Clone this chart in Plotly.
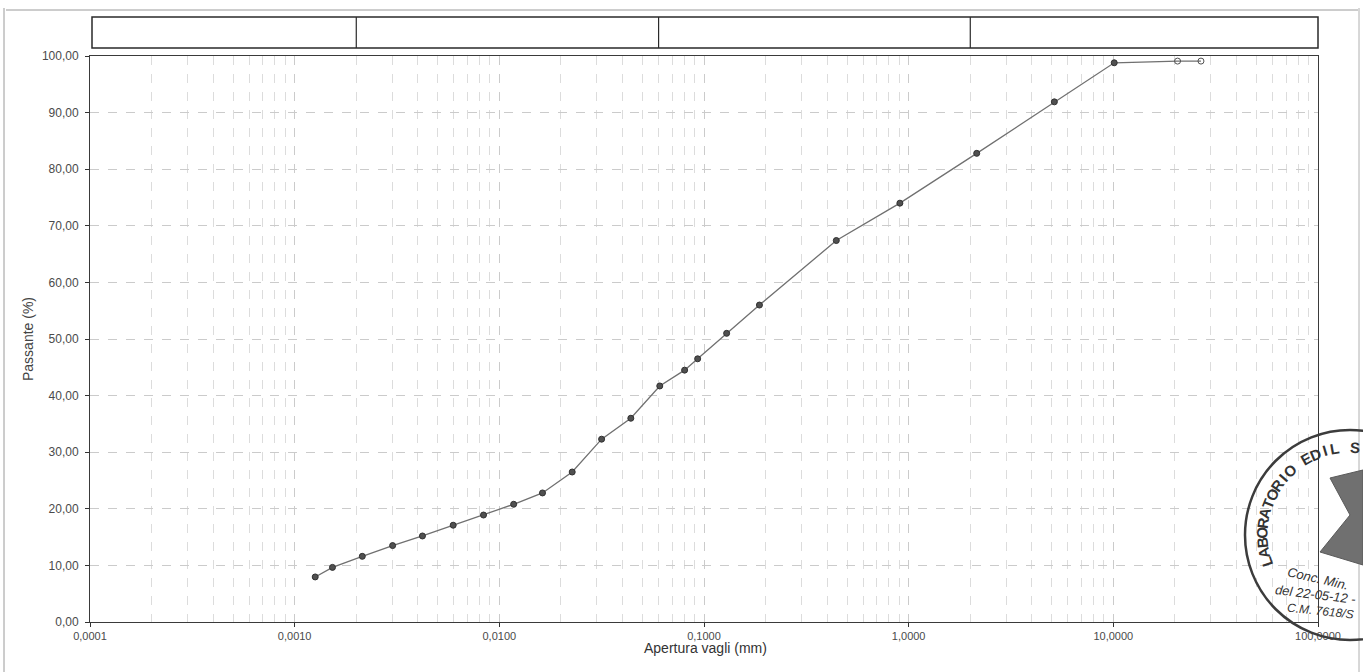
import math
import plotly.graph_objects as go

# Grain-size distribution (sieve + hydrometer), % passing vs. aperture
aperture_mm = [0.00126, 0.00153, 0.00214, 0.00301, 0.00421, 0.00595, 0.00837,
               0.01175, 0.01625, 0.0227, 0.0316, 0.0439, 0.0608, 0.0804,
               0.0931, 0.129, 0.1866, 0.443, 0.906, 2.15, 5.15, 10.1,
               20.6, 26.8]
passing_pct = [7.96, 9.65, 11.6, 13.5, 15.2, 17.1, 18.9, 20.8, 22.8, 26.5,
               32.3, 36.0, 41.7, 44.5, 46.5, 51.0, 56.0, 67.4, 74.0, 82.8,
               91.9, 98.8, 99.1, 99.1]
n_open_markers = 2  # last readings drawn as hollow markers

x_tick_vals = [0.0001, 0.001, 0.01, 0.1, 1, 10, 100]
x_tick_text = ["0,0001", "0,0010", "0,0100", "0,1000", "1,0000", "10,0000", "100,0000"]
y_tick_vals = [0, 10, 20, 30, 40, 50, 60, 70, 80, 90, 100]
y_tick_text = ["0,00", "10,00", "20,00", "30,00", "40,00", "50,00",
               "60,00", "70,00", "80,00", "90,00", "100,00"]

# Class limits of the band above the chart (clay | silt | sand | gravel)
class_limits_mm = [0.002, 0.06, 2.0]

W, H = 1363, 672
ML, MR, MT, MB = 90, 45, 56, 50
PW, PH = W - ML - MR, H - MT - MB
X_LOG_MIN, X_LOG_MAX = -4, 2


def px_x(px):
    return (px - ML) / PW


def px_y(py):
    return (H - MB - py) / PH


def log_paper(v):
    return (math.log10(v) - X_LOG_MIN) / (X_LOG_MAX - X_LOG_MIN)


minor_vals = [m * 10 ** e for e in range(-4, 2) for m in range(2, 10)]

symbols = ["circle"] * (len(aperture_mm) - n_open_markers) + ["circle-open"] * n_open_markers

fig = go.Figure()
fig.add_trace(go.Scatter(
    x=aperture_mm, y=passing_pct, mode="lines+markers",
    line=dict(color="#707070", width=1.3),
    marker=dict(symbol=symbols, size=6, color="#505050",
                line=dict(color="#303030", width=1)),
    showlegend=False,
))

font_main = "Liberation Sans, Arial, sans-serif"

fig.update_xaxes(
    type="log", range=[X_LOG_MIN, X_LOG_MAX],
    tickmode="array", tickvals=x_tick_vals, ticktext=x_tick_text,
    ticks="outside", ticklen=4, tickcolor="#333",
    showline=True, mirror=True, linecolor="#3a3a3a", linewidth=1,
    showgrid=True, gridcolor="#cbcbcb", griddash="dash", gridwidth=1,
    minor=dict(tickmode="array", tickvals=minor_vals, showgrid=True,
               gridcolor="#dcdcdc", griddash="dash", gridwidth=1, ticks=""),
    tickfont=dict(family=font_main, size=11, color="#4a4a4a"),
    zeroline=False,
)
fig.update_yaxes(
    range=[0, 100],
    tickmode="array", tickvals=y_tick_vals, ticktext=y_tick_text,
    ticks="outside", ticklen=4, tickcolor="#333",
    showline=True, mirror=True, linecolor="#3a3a3a", linewidth=1,
    showgrid=True, gridcolor="#cbcbcb", griddash="dash", gridwidth=1,
    tickfont=dict(family=font_main, size=12, color="#4a4a4a"),
    ticklabelstandoff=4,
    zeroline=False,
)

shapes = []
# Band of grain classes above the plot
band_top, band_bot = px_y(17), px_y(48)
shapes.append(dict(type="rect", xref="paper", yref="paper",
                   x0=px_x(92), x1=px_x(1318), y0=band_bot, y1=band_top,
                   line=dict(color="#2a2a2a", width=1.5), fillcolor="rgba(0,0,0,0)"))
for lim in class_limits_mm:
    xp = log_paper(lim)
    shapes.append(dict(type="line", xref="paper", yref="paper",
                       x0=xp, x1=xp, y0=band_bot, y1=band_top,
                       line=dict(color="#2a2a2a", width=1.2)))

# Page edges
shapes.append(dict(type="line", xref="paper", yref="paper",
                   x0=px_x(4), x1=px_x(4), y0=px_y(672), y1=px_y(8),
                   line=dict(color="#9a9a9a", width=1)))
shapes.append(dict(type="line", xref="paper", yref="paper",
                   x0=px_x(6), x1=px_x(1358), y0=px_y(10), y1=px_y(10),
                   line=dict(color="#9a9a9a", width=1)))
shapes.append(dict(type="line", xref="paper", yref="paper",
                   x0=px_x(1359), x1=px_x(1359), y0=px_y(672), y1=px_y(8),
                   line=dict(color="#b0b0b0", width=1)))

# Laboratory stamp
cx, cy, r = 1350, 535, 105
shapes.append(dict(type="circle", xref="paper", yref="paper",
                   x0=px_x(cx - r), x1=px_x(cx + r), y0=px_y(cy + r), y1=px_y(cy - r),
                   line=dict(color="#3c3c3c", width=2.5), fillcolor="rgba(0,0,0,0)"))
logo = [(1330, 478), (1363, 470), (1363, 565), (1320, 552), (1350, 515)]
path = "M " + " L ".join(f"{px_x(a):.5f},{px_y(b):.5f}" for a, b in logo) + " Z"
shapes.append(dict(type="path", xref="paper", yref="paper", path=path,
                   fillcolor="#707070", line=dict(color="#5a5a5a", width=1)))

annotations = [
    dict(text="Passante (%)", xref="paper", yref="paper", x=px_x(28), y=px_y(339),
         xanchor="center", yanchor="middle", showarrow=False, textangle=-90,
         font=dict(family=font_main, size=14, color="#444")),
    dict(text="Apertura vagli (mm)", xref="paper", yref="paper", x=px_x(705), y=px_y(648),
         xanchor="center", yanchor="middle", showarrow=False,
         font=dict(family=font_main, size=14, color="#333")),
]

stamp_text = "LABORATORIO EDIL S"
ang_start, ang_end, r_text = 198.0, 87.0, 88
step = (ang_end - ang_start) / (len(stamp_text) - 1)
for i, ch in enumerate(stamp_text):
    if ch == " ":
        continue
    th = ang_start + i * step
    x = cx + r_text * math.cos(math.radians(th))
    y = cy - r_text * math.sin(math.radians(th))
    annotations.append(dict(text=f"<b>{ch}</b>", xref="paper", yref="paper",
                            x=px_x(x), y=px_y(y), xanchor="center", yanchor="middle",
                            showarrow=False, textangle=90 - th,
                            font=dict(family=font_main, size=15, color="#333")))

for txt, x, y, ang, size in [("<i>Conc. Min.</i>", 1318, 578, 13, 13),
                             ("<i>del 22-05-12 -</i>", 1316, 594, 7, 13),
                             ("<i>C.M. 7618/S</i>", 1320, 611, 6, 12)]:
    annotations.append(dict(text=txt, xref="paper", yref="paper",
                            x=px_x(x), y=px_y(y), xanchor="center", yanchor="middle",
                            showarrow=False, textangle=ang,
                            font=dict(family=font_main, size=size, color="#333")))

fig.update_layout(
    width=W, height=H,
    margin=dict(l=ML, r=MR, t=MT, b=MB),
    paper_bgcolor="white", plot_bgcolor="white",
    shapes=shapes, annotations=annotations,
)

fig.write_html("out.html")
